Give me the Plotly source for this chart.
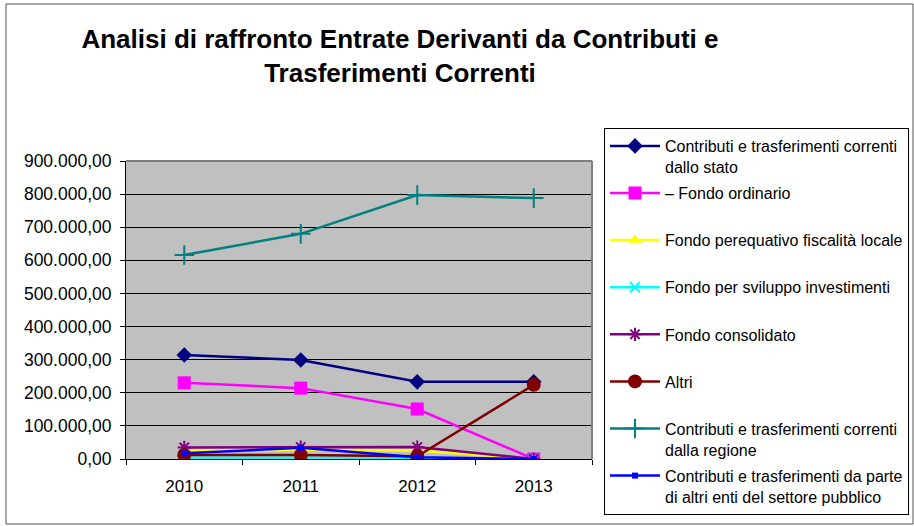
import plotly.graph_objects as go

W, H = 914, 526
ML, MR, MT, MB = 126, 322, 161, 67

years = ["2010", "2011", "2012", "2013"]

stato = [314000, 299000, 233000, 233000]
fondo_ordinario = [230000, 214000, 151000, 0]
fondo_perequativo = [25000, 28000, 26000, 0]
fondo_sviluppo = [4000, 4000, 4000, 0]
fondo_consolidato = [35000, 36000, 36000, 0]
altri = [12000, 12000, 8000, 224000]
regione = [616000, 680000, 797000, 788000]
altri_enti = [17000, 34000, 5000, 0]

series = [
    ("Contributi e trasferimenti correnti<br>dallo stato", stato, "#000080", "diamond", 12),
    ("– Fondo ordinario<br> ", fondo_ordinario, "#FF00FF", "square", 13),
    ("Fondo perequativo fiscalità locale<br> ", fondo_perequativo, "#FFFF00", "triangle-up", 11),
    ("Fondo per sviluppo investimenti<br> ", fondo_sviluppo, "#00FFFF", "x-thin-open", 10),
    ("Fondo consolidato<br> ", fondo_consolidato, "#800080", "asterisk-open", 11),
    ("Altri<br> ", altri, "#800000", "circle", 14),
    ("Contributi e trasferimenti correnti<br>dalla regione", regione, "#008080", "cross-thin-open", 14),
    ("Contributi e trasferimenti da parte<br>di altri enti del settore pubblico", altri_enti, "#0000FF", "square", 6),
]

fig = go.Figure()
for i, (name, vals, col, sym, sz) in enumerate(series):
    open_sym = sym.endswith("open")
    fig.add_trace(go.Scatter(
        x=years, y=vals, name=name, mode="lines+markers",
        legendgroup=f"g{i}",
        line=dict(color=col, width=2.5),
        marker=dict(symbol=sym, size=sz, color=col,
                    line=dict(color=col, width=2 if open_sym else 0)),
    ))

pw = W - ML - MR
ph = H - MT - MB
# outer chart border
fig.add_shape(type="rect", xref="paper", yref="paper",
              x0=-(ML - 6) / pw, x1=(W - ML - 1) / pw,
              y0=-(MB - 2) / ph, y1=(H - MB - 4) / ph,
              line=dict(color="#555555", width=1))
# grey plot-area frame (top and right)
fig.add_shape(type="line", xref="paper", yref="paper", x0=0, x1=1, y0=1, y1=1,
              line=dict(color="#808080", width=2))
fig.add_shape(type="line", xref="paper", yref="paper", x0=1, x1=1, y0=0, y1=1,
              line=dict(color="#808080", width=2))

fig.update_layout(
    width=W, height=H,
    margin=dict(l=ML, r=MR, t=MT, b=MB, autoexpand=False),
    paper_bgcolor="white",
    plot_bgcolor="#C0C0C0",
    separators=",.",
    font=dict(family="Arial, Liberation Sans, sans-serif", size=17, color="black"),
    title=dict(
        text="<b>Analisi di raffronto Entrate Derivanti da Contributi e<br>Trasferimenti Correnti</b>",
        x=400 / W, xanchor="center", xref="container",
        y=1 - 48 / H, yanchor="middle", yref="container",
        font=dict(size=26, color="black"),
    ),
    xaxis=dict(
        range=[-0.5, 3.5],
        showgrid=False, showline=True, linecolor="black", linewidth=1,
        ticks="outside", tickson="boundaries", ticklen=5, tickcolor="black",
        tickfont=dict(size=17), ticklabelstandoff=12,
    ),
    yaxis=dict(
        range=[0, 900000], dtick=100000, tickformat=",.2f",
        showgrid=True, gridcolor="black", gridwidth=1,
        showline=True, linecolor="black", linewidth=1,
        ticks="outside", ticklen=5, tickcolor="black",
        zeroline=False, tickfont=dict(size=17.5), ticklabelstandoff=5,
    ),
    legend=dict(
        xref="container", x=604 / W, xanchor="left",
        yref="container", y=1 - 128 / H, yanchor="top",
        bordercolor="black", borderwidth=1, bgcolor="white",
        font=dict(size=16), valign="top", tracegroupgap=2.5,
        itemwidth=50, maxheight=500,
    ),
    showlegend=True,
)

fig.write_html("out.html", config={"displayModeBar": False},
               post_script="document.body.style.margin='0px';")
